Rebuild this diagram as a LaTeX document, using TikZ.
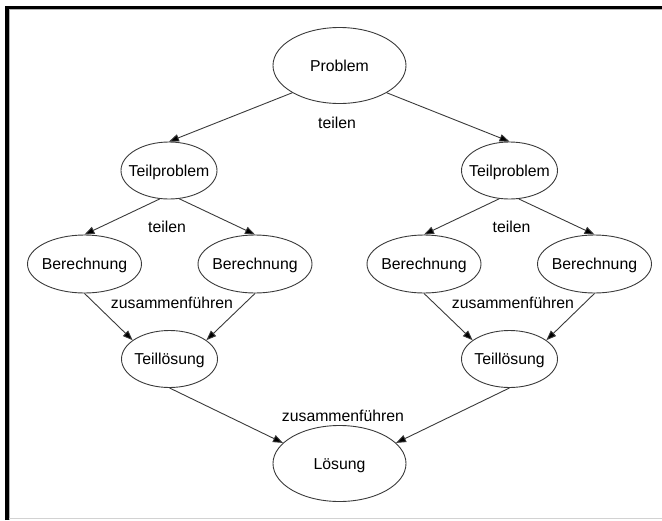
\documentclass[tikz,border=0pt]{standalone}
\usepackage{fontspec}
\setmainfont{Liberation Sans}
\usetikzlibrary{shapes.geometric,arrows.meta}
\newcommand{\zbox}[1]{\makebox[0pt]{#1}}
\definecolor{edgegray}{HTML}{3A3A3A}
\begin{document}
\begin{tikzpicture}[x=1pt,y=-1pt,
  font=\fontsize{15.8}{19}\selectfont,
  blob/.style={ellipse, draw=edgegray, line width=0.9pt, inner sep=0pt,
    text height=11.5pt, text depth=0pt},
  small/.style={blob, minimum width=96pt, minimum height=57pt},
  calc/.style={blob, minimum width=114pt, minimum height=58pt},
  big/.style={blob, minimum width=133pt, minimum height=76pt},
  tag/.style={inner sep=0pt, text height=11.5pt, text depth=0pt},
  link/.style={draw=edgegray, line width=0.9pt,
    -{Triangle[length=10pt,width=7.5pt,fill=black]}}]
\useasboundingbox (0,0) rectangle (662,520);

% frame
\draw[line width=3.5pt, black] (7.2,520) -- (7.2,7.5) -- (662,7.5);
\draw[line width=0.8pt, gray!60] (9.8,520) -- (9.8,9.8) -- (662,9.8);
\draw[line width=1pt, gray!35] (9,518.8) -- (662,518.8);

% nodes
\node[big]   (P)   at (339.5,65.5)  {\zbox{Problem}};
\node[small] (TPL) at (169,170.5)   {\zbox{Teilproblem}};
\node[small] (TPR) at (509.5,170.5) {\zbox{Teilproblem}};
\node[calc]  (B1)  at (84.5,264)    {\zbox{Berechnung}};
\node[calc]  (B2)  at (255,264)     {\zbox{Berechnung}};
\node[calc]  (B3)  at (424,264)     {\zbox{Berechnung}};
\node[calc]  (B4)  at (594.5,264)   {\zbox{Berechnung}};
\node[small] (TLL) at (169.5,359)   {\zbox{Teillösung}};
\node[small] (TLR) at (509.5,359)   {\zbox{Teillösung}};
\node[big]   (L)   at (339.5,463.5) {\zbox{Lösung}};

% labels
\node[tag] (t0) at (337,123)  {teilen};
\node[tag] (t1) at (167,227)  {teilen};
\node[tag] (t2) at (511.5,227){teilen};
\node[tag] (z1) at (172,303)  {zusammenführen};
\node[tag] (z2) at (513,303)  {zusammenführen};
\node[tag] (z0) at (343,416)  {zusammenführen};

% connectors
\draw[link] (P.210) -- (TPL.north);
\draw[link] (P.330) -- (TPR.north);
\draw[link] (TPL.252) -- (B1.north);
\draw[link] (TPL.290) -- (B2.north);
\draw[link] (TPR.250) -- (B3.north);
\draw[link] (TPR.288) -- (B4.north);
\draw[link] (B1.south) -- (TLL.153);
\draw[link] (B2.south) -- (TLL.27);
\draw[link] (B3.south) -- (TLR.153);
\draw[link] (B4.south) -- (TLR.27);
\draw[link] (TLL.south) -- (L.160);
\draw[link] (TLR.south) -- (L.20);
\end{tikzpicture}
\end{document}
